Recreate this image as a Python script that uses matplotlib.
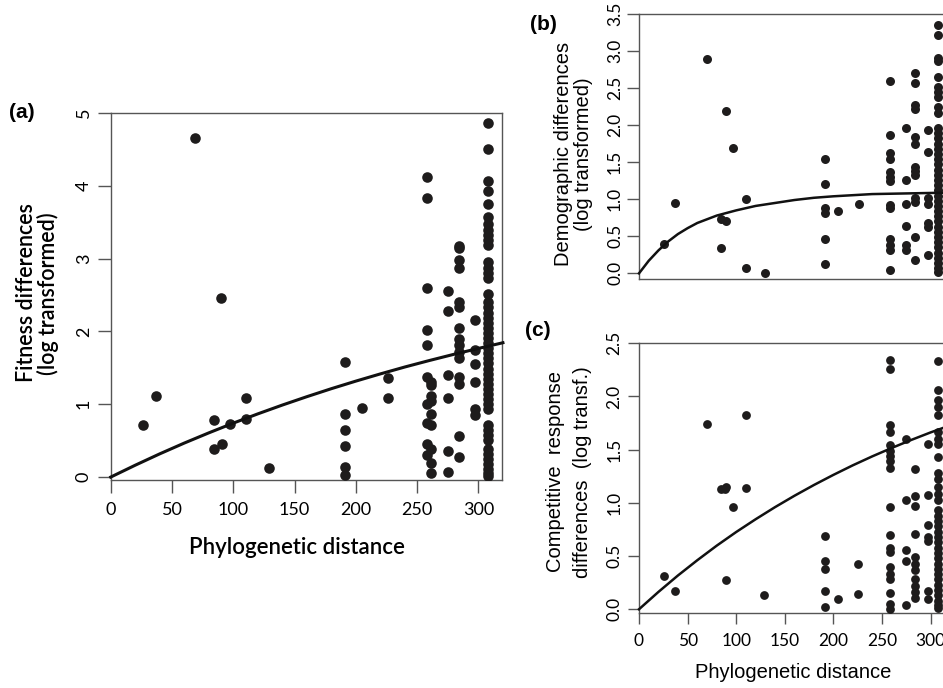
import matplotlib
matplotlib.use("Agg")
import matplotlib.pyplot as plt

# ---- data ----
# (a) fitness differences
a_x = [26, 37, 69, 84, 84, 90, 91, 97, 110, 110, 129,
       191, 191, 191, 191, 191, 191, 205, 226, 226,
       258, 258, 258, 258, 258, 258, 258, 258, 258, 258,
       261, 261, 261, 261, 261, 261, 261, 261, 261,
       275, 275, 275, 275, 275, 275,
       284, 284, 284, 284, 284, 284, 284, 284, 284, 284, 284, 284, 284, 284, 284,
       297, 297, 297, 297, 297, 297]
a_y = [0.71, 1.12, 4.66, 0.78, 0.38, 2.46, 0.45, 0.73, 1.08, 0.80, 0.13,
       1.58, 0.86, 0.64, 0.43, 0.14, 0.03, 0.95, 1.36, 1.08,
       4.12, 3.83, 2.59, 2.02, 1.82, 1.37, 1.01, 0.74, 0.45, 0.30,
       1.30, 1.26, 1.11, 1.04, 0.86, 0.71, 0.38, 0.19, 0.05,
       2.55, 2.28, 1.40, 1.08, 0.36, 0.07,
       3.18, 3.14, 2.98, 2.87, 2.40, 2.34, 2.05, 1.89, 1.82, 1.72, 1.64, 1.38, 1.28, 0.57, 0.28,
       2.16, 1.75, 1.55, 1.30, 0.94, 0.85]
a_col308 = [4.86, 4.50, 4.06, 3.93, 3.75, 3.57, 3.47, 3.40, 3.33, 3.26, 3.19,
            2.95, 2.87, 2.80, 2.73, 2.52, 2.40, 2.33, 2.26, 2.19, 2.12, 2.05,
            1.98, 1.91, 1.84, 1.77, 1.70, 1.63, 1.56, 1.49, 1.42, 1.35, 1.28,
            1.21, 1.14, 1.07, 1.00, 0.94, 0.72, 0.65, 0.58, 0.51, 0.39, 0.32,
            0.25, 0.18, 0.11, 0.05, 0.01]
a_fit_x = [0, 20, 40, 60, 80, 100, 120, 140, 160, 180, 200, 220, 240, 260, 280, 300, 320]
a_fit_y = [0, 0.163, 0.319, 0.467, 0.607, 0.741, 0.868, 0.989, 1.104, 1.214,
           1.318, 1.417, 1.512, 1.601, 1.686, 1.767, 1.845]

# (b) demographic differences
b_x = [26, 37, 70, 84, 84, 90, 90, 97, 110, 110, 130,
       191, 191, 191, 191, 191, 191, 205, 226,
       258, 258, 258, 258, 258, 258, 258, 258, 258, 258, 258, 258, 258,
       275, 275, 275, 275, 275, 275,
       284, 284, 284, 284, 284, 284, 284, 284, 284, 284, 284, 284, 284,
       297, 297, 297, 297, 297, 297, 297]
b_y = [0.39, 0.95, 2.89, 0.74, 0.34, 2.19, 0.70, 1.69, 1.01, 0.07, 0.0,
       1.55, 1.21, 0.88, 0.81, 0.47, 0.13, 0.84, 0.93,
       2.59, 1.87, 1.62, 1.55, 1.37, 1.30, 1.25, 0.92, 0.88, 0.47, 0.38, 0.31, 0.04,
       1.96, 1.26, 0.94, 0.64, 0.38, 0.31,
       2.71, 2.57, 2.27, 2.22, 1.84, 1.75, 1.44, 1.38, 1.33, 1.02, 0.96, 0.49, 0.18,
       1.94, 1.64, 1.02, 0.93, 0.68, 0.62, 0.25]
b_col308 = [3.35, 3.22, 2.90, 2.86, 2.65, 2.52, 2.45, 2.38, 2.25, 2.16,
            1.96, 1.89, 1.82, 1.75, 1.68, 1.61, 1.54, 1.47, 1.40, 1.33,
            1.26, 1.19, 1.12, 1.05, 0.98, 0.91, 0.84, 0.77, 0.70, 0.63,
            0.56, 0.49, 0.42, 0.35, 0.28, 0.21, 0.14, 0.07, 0.02]
b_fit_x = [0, 10, 20, 30, 40, 50, 60, 70, 80, 100, 120, 140, 160, 180, 200, 240, 280, 320]
b_fit_y = [0.0, 0.17, 0.31, 0.43, 0.53, 0.61, 0.68, 0.73, 0.78, 0.85, 0.91,
           0.95, 0.99, 1.02, 1.04, 1.07, 1.08, 1.09]

# (c) competitive response differences
c_x = [26, 37, 70, 84, 88, 90, 90, 97, 110, 110, 129,
       191, 191, 191, 191, 191, 205, 225, 225,
       258, 258, 258, 258, 258, 258, 258, 258, 258, 258, 258, 258, 258, 258, 258, 258, 258, 258, 258,
       275, 275, 275, 275, 275,
       284, 284, 284, 284, 284, 284, 284, 284, 284, 284, 284,
       297, 297, 297, 297, 297, 297, 297]
c_y = [0.31, 0.17, 1.74, 1.13, 1.13, 1.15, 0.275, 0.96, 1.83, 1.14, 0.13,
       0.69, 0.45, 0.38, 0.17, 0.02, 0.10, 0.43, 0.14,
       2.34, 2.26, 1.73, 1.67, 1.54, 1.49, 1.44, 1.39, 1.33, 0.96, 0.70, 0.58, 0.54,
       0.40, 0.33, 0.28, 0.15, 0.05, 0.0,
       1.60, 1.03, 0.56, 0.45, 0.04,
       1.32, 1.06, 0.97, 0.71, 0.49, 0.43, 0.37, 0.28, 0.22, 0.16, 0.11,
       1.55, 1.07, 0.79, 0.68, 0.64, 0.17, 0.10]
c_col308 = [2.33, 2.06, 1.97, 1.90, 1.83, 1.67, 1.60, 1.55, 1.43, 1.28, 1.22,
            1.15, 1.08, 1.03, 0.93, 0.88, 0.83, 0.78, 0.73, 0.68, 0.63, 0.58,
            0.53, 0.48, 0.43, 0.38, 0.33, 0.28, 0.23, 0.18, 0.13, 0.08, 0.04, 0.01]
c_fit_x = [0, 20, 40, 60, 80, 100, 120, 140, 160, 180, 200, 220, 240, 260, 280, 300, 320]
c_fit_y = [0, 0.163, 0.317, 0.461, 0.598, 0.726, 0.846, 0.960, 1.067, 1.168,
           1.263, 1.353, 1.437, 1.516, 1.591, 1.662, 1.728]

a_yticks = [0, 1, 2, 3, 4, 5]
b_yticks = [0.0, 0.5, 1.0, 1.5, 2.0, 2.5, 3.0, 3.5]
c_yticks = [0.0, 0.5, 1.0, 1.5, 2.0, 2.5]
x_ticks = [0, 50, 100, 150, 200, 250, 300]

DOT = "#1e1c1c"
SPINE = "#555555"
TICKFONT = "Lato"
LABFONT = "Liberation Sans"
W, H = 943, 688


def style_axes(ax, ticklen, pad, size, xpad=None):
    for s in ax.spines.values():
        s.set_color(SPINE)
        s.set_linewidth(1.0)
    ax.tick_params(direction="out", length=ticklen, width=1.0, color=SPINE,
                   pad=pad, labelsize=size)
    if xpad is not None:
        ax.tick_params(axis="x", pad=xpad)
    for lab in ax.get_yticklabels():
        lab.set_rotation(90)
        lab.set_va("center")
        lab.set_family(TICKFONT)
    for lab in ax.get_xticklabels():
        lab.set_family(TICKFONT)


fig = plt.figure(figsize=(W / 100, H / 100), dpi=100)

# panel (a)
ax_a = fig.add_axes([110.7 / W, 1 - 480 / H, 391 / W, 367 / H])
ax_a.scatter(a_x, a_y, s=58, color=DOT, linewidths=0, zorder=3)
ax_a.scatter([308] * len(a_col308), a_col308, s=58, color=DOT, linewidths=0, zorder=3)
ax_a.plot(a_fit_x, a_fit_y, color="#111111", lw=2.2, zorder=4, clip_on=False)
ax_a.set_xlim(0, 319)
ax_a.set_ylim(-0.04, 5)
ax_a.set_xticks(x_ticks)
ax_a.set_yticks(a_yticks)
style_axes(ax_a, 9.5, 4, 13, xpad=6)

# panel (b)
ax_b = fig.add_axes([639 / W, 1 - 279.3 / H, 310 / W, 265.3 / H])
ax_b.scatter(b_x, b_y, s=42, color=DOT, linewidths=0, zorder=3)
ax_b.scatter([308] * len(b_col308), b_col308, s=42, color=DOT, linewidths=0, zorder=3)
ax_b.plot(b_fit_x, b_fit_y, color="#111111", lw=1.8, zorder=4, clip_on=False)
ax_b.set_xlim(0, 319)
ax_b.set_ylim(-0.08, 3.5)
ax_b.set_xticks([])
ax_b.set_yticks(b_yticks)
ax_b.set_yticklabels([f"{v:.1f}" for v in b_yticks])
style_axes(ax_b, 9, 2.5, 12.5)

# panel (c)
ax_c = fig.add_axes([639 / W, 1 - 613.3 / H, 310 / W, 270 / H])
ax_c.scatter(c_x, c_y, s=40, color=DOT, linewidths=0, zorder=3)
ax_c.scatter([308] * len(c_col308), c_col308, s=40, color=DOT, linewidths=0, zorder=3)
ax_c.plot(c_fit_x, c_fit_y, color="#111111", lw=1.8, zorder=4, clip_on=False)
ax_c.set_xlim(0, 319)
ax_c.set_ylim(-0.038, 2.5)
ax_c.set_xticks(x_ticks)
ax_c.set_yticks(c_yticks)
ax_c.set_yticklabels([f"{v:.1f}" for v in c_yticks])
style_axes(ax_c, 8, 4, 12.5, xpad=6)


def ftext(px, py, s, **kw):
    kw.setdefault("ha", "center")
    kw.setdefault("va", "center")
    fig.text(px / W, 1 - py / H, s, **kw)


# panel letters
ftext(22, 113, "(a)", family=LABFONT, weight="bold", fontsize=15)
ftext(543, 24, "(b)", family=LABFONT, weight="bold", fontsize=15)
ftext(538, 330, "(c)", family=LABFONT, weight="bold", fontsize=15)

# axis titles; rotated ones anchored on their baseline
rot = dict(rotation=90, rotation_mode="anchor", va="baseline")
ftext(33, 293, "Fitness differences", family=TICKFONT, weight="semibold",
      fontsize=15.5, **rot)
ftext(55, 294, "(log transformed)", family=TICKFONT, weight="semibold",
      fontsize=15.5, **rot)
ftext(297, 547, "Phylogenetic distance", family=TICKFONT, weight="semibold",
      fontsize=16)

ftext(569, 154, "Demographic differences", family=LABFONT, fontsize=14.5, **rot)
ftext(589, 154, "(log transformed)", family=LABFONT, fontsize=14.5, **rot)

ftext(561, 472, "Competitive  response", family=LABFONT, fontsize=14.5, **rot)
ftext(588, 472, "differences  (log transf.)", family=LABFONT, fontsize=14.5,
      **rot)
ftext(793, 673, "Phylogenetic distance", family=LABFONT, fontsize=14.5)

fig.savefig("out.png", dpi=100)
